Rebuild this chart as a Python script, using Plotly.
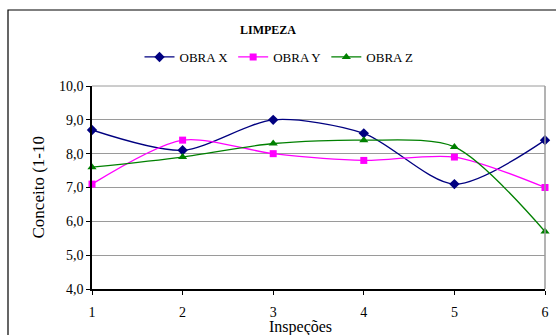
import plotly.graph_objects as go

inspecoes = [1, 2, 3, 4, 5, 6]
obra_x = [8.7, 8.1, 9.0, 8.6, 7.1, 8.4]
obra_y = [7.1, 8.4, 8.0, 7.8, 7.9, 7.0]
obra_z = [7.6, 7.9, 8.3, 8.4, 8.2, 5.7]
y_ticks = [4, 5, 6, 7, 8, 9, 10]
y_labels = ["4,0", "5,0", "6,0", "7,0", "8,0", "9,0", "10,0"]

W, H = 556, 335
FONT = "Liberation Serif"
PW, PH = W - 92 - 11, H - 86 - 46

fig = go.Figure()
series = [
    ("OBRA X", obra_x, "#000080", "diamond", 8),
    ("OBRA Y", obra_y, "#FF00FF", "square", 7),
    ("OBRA Z", obra_z, "#008000", "triangle-up", 8),
]
for name, vals, color, sym, sz in series:
    fig.add_trace(go.Scatter(
        x=inspecoes, y=vals, name=name, mode="lines+markers",
        line=dict(color=color, width=1.3, shape="spline", smoothing=0.8),
        marker=dict(symbol=sym, size=sz, color=color),
        cliponaxis=False,
    ))

fig.update_layout(
    width=W, height=H,
    margin=dict(l=92, r=11, t=86, b=46, autoexpand=False),
    paper_bgcolor="white", plot_bgcolor="white",
    font=dict(family=FONT, size=14, color="black"),
    showlegend=True,
    legend=dict(orientation="h", x=(279 - 92) / PW, xanchor="center",
                y=1 + (86 - 57) / PH, yanchor="middle",
                font=dict(size=13, family=FONT), itemwidth=30,
                tracegroupgap=0, bgcolor="rgba(0,0,0,0)"),
    title=dict(text="<b>LIMPEZA</b>", x=268 / W, xanchor="center", y=1 - 30 / H, yanchor="middle",
               font=dict(size=12, family=FONT)),
)
fig.update_xaxes(range=[1, 6], tickvals=inspecoes, ticks="outside", ticklen=4,
                 tickcolor="black", showline=True, linecolor="black", linewidth=1.5,
                 showgrid=False, zeroline=False, ticklabelstandoff=5, automargin=False,
                 tickfont=dict(size=14, family=FONT))
fig.update_yaxes(range=[4, 10], tickvals=y_ticks, ticktext=y_labels, ticks="outside",
                 ticklen=4, tickcolor="black", showline=True, linecolor="black", linewidth=1.5,
                 showgrid=True, gridcolor="#9a9a9a", gridwidth=1, zeroline=False, automargin=False,
                 tickfont=dict(size=14, family=FONT))
fig.add_shape(type="line", xref="paper", yref="paper", x0=1, x1=1, y0=0, y1=1,
              line=dict(color="#9a9a9a", width=1.5))
fig.add_shape(type="line", xref="paper", yref="paper", x0=0, x1=1, y0=1, y1=1,
              line=dict(color="#9a9a9a", width=1))
fig.add_shape(type="rect", xref="paper", yref="paper",
              x0=(8 - 92) / PW, x1=1.2,
              y0=-0.5, y1=1 + (86 - 10) / PH,
              line=dict(color="black", width=1.2), layer="below")
fig.add_annotation(text="Conceito (1-10", xref="paper", yref="paper",
                   x=(38 - 92) / PW, y=0.5,
                   textangle=-90, showarrow=False, xanchor="center", yanchor="middle",
                   font=dict(size=17, family=FONT))
fig.add_annotation(text="Inspeções", xref="paper", yref="paper",
                   x=(300 - 92) / PW, y=-(327 - 289) / PH,
                   showarrow=False, xanchor="center", yanchor="middle",
                   font=dict(size=16, family=FONT))

fig.write_html("out.html")
